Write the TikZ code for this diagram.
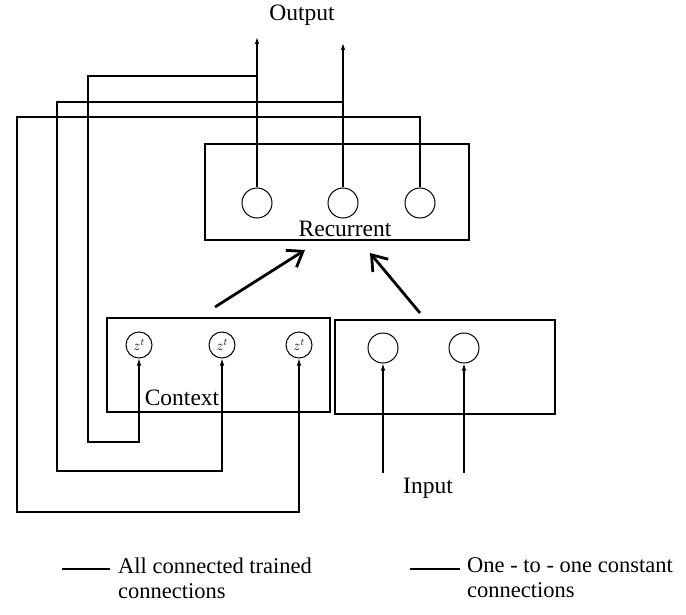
\documentclass[tikz,border=0pt]{standalone}
\usepackage{fontspec}
\setmainfont{Liberation Serif}
\usetikzlibrary{arrows.meta}
\begin{document}
\begin{tikzpicture}[x=1pt,y=-1pt,
  box/.style={draw,line width=1.1pt,inner sep=0pt},
  unit/.style={draw,circle,line width=1pt,minimum size=30pt,inner sep=0pt},
  cunit/.style={draw,circle,line width=1pt,minimum size=26pt,inner sep=0pt,font=\fontsize{14}{14}\selectfont},
  lbl/.style={font=\fontsize{23.5}{28}\selectfont,inner sep=0pt},
  leglbl/.style={font=\fontsize{22.5}{25}\selectfont,inner sep=0pt},
  conn/.style={line width=1.1pt},
  smalltip/.style={-{Latex[length=7pt,width=4.5pt]}},
  trained/.style={line width=2.8pt,-{Straight Barb[length=14pt,width=20pt,line width=2.8pt]}}
]
\useasboundingbox (0,0) rectangle (686,615);
% boxes
\node[box,minimum width=264pt,minimum height=96pt] (recbox) at (337,192) {};
\node[box,minimum width=223pt,minimum height=94pt] (ctxbox) at (218.5,365) {};
\node[box,minimum width=220pt,minimum height=94pt] (inpbox) at (445,367) {};
% recurrent units
\node[unit] (r1) at (257,203) {};
\node[unit] (r2) at (343,203) {};
\node[unit] (r3) at (420,203) {};
\node[lbl] (reclbl) at (345,229) {Recurrent};
% context units
\node[cunit] (c1) at (139,345) {$z^t$};
\node[cunit] (c2) at (222,345) {$z^t$};
\node[cunit] (c3) at (299,345) {$z^t$};
\node[lbl] (ctxlbl) at (182,398) {Context};
% input units
\node[unit] (i1) at (383,348) {};
\node[unit] (i2) at (464,348) {};
\node[lbl] (inlbl) at (428,488) {Input};
\node[lbl] (outlbl) at (302,15) {Output};
% coordinates
\coordinate (o1) at (257,37);
\coordinate (o2) at (343,43);
\coordinate (in1) at (383,473);
\coordinate (in2) at (464,473);
\coordinate (t1s) at (215,307);
\coordinate (t1e) at (305,250);
\coordinate (t2s) at (420,313);
\coordinate (t2e) at (370,253);
% output connections
\draw[conn,smalltip] (r1.north) -- (o1);
\draw[conn,smalltip] (r2.north) -- (o2);
% copy-back loops
\draw[conn,smalltip] (r1.north) |- (88,76) -- (88,442) -| (c1.south);
\draw[conn,smalltip] (r2.north) |- (57,102) -- (57,471) -| (c2.south);
\draw[conn,smalltip] (r3.north) |- (17,117) -- (17,512) -| (c3.south);
% input connections
\draw[conn,smalltip] (in1) -- (i1.south);
\draw[conn,smalltip] (in2) -- (i2.south);
% trained connections
\draw[trained] (t1s) -- (t1e);
\draw[trained] (t2s) -- (t2e);
% legend
\coordinate (lg1a) at (62,569);
\coordinate (lg1b) at (110,569);
\coordinate (lg2a) at (410,569);
\coordinate (lg2b) at (460,569);
\draw[line width=2.6pt] (lg1a) -- (lg1b);
\draw[line width=1.1pt] (lg2a) -- (lg2b);
\node[leglbl,anchor=west,align=left] (leg1) at (118,578) {All connected trained\\connections};
\node[leglbl,anchor=west,align=left] (leg2) at (467,578) {One - to - one constant\\connections};
\end{tikzpicture}
\end{document}
